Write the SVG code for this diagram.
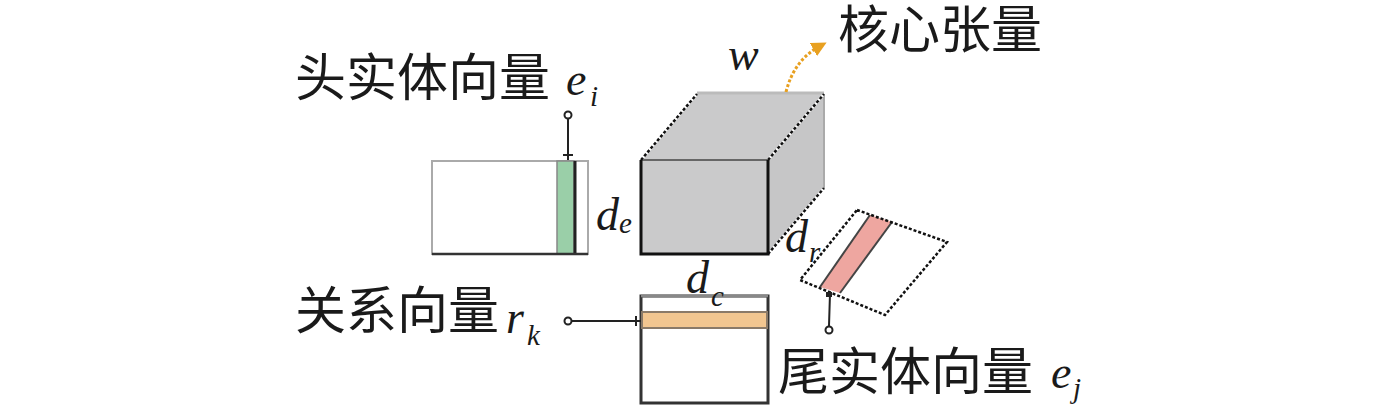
<svg xmlns="http://www.w3.org/2000/svg" width="1378" height="416" viewBox="0 0 1378 416">
<style>
.cjk{font-family:"Noto Sans CJK SC",sans-serif;font-size:51px;fill:#1a1a1a}
.m{font-family:'Liberation Serif','DejaVu Serif',serif;font-style:italic;font-size:46px;fill:#1a1a1a}
.s{font-family:'Liberation Serif','DejaVu Serif',serif;font-style:italic;font-size:29px;fill:#1a1a1a}
.dash{stroke:#111;stroke-width:2.5;stroke-dasharray:3 2;fill:none}
.dashbg{stroke:#fff;stroke-width:2.5;fill:none}
.conn{stroke:#222;stroke-width:2;fill:none}
.dot{fill:#fff;stroke:#222;stroke-width:2}
</style>
<defs>
<marker id="oa" viewBox="0 0 10 10" refX="5" refY="5" markerWidth="5" markerHeight="5" orient="auto">
<path d="M0,0 L10,5 L0,10 z" fill="#E8A020"/>
</marker>
</defs>
<rect width="1378" height="416" fill="#fff"/>

<g id="head-entity">
<rect x="432" y="161" width="156" height="93" fill="#fff" stroke="#aaa" stroke-width="2"/>
<rect x="557" y="161" width="17" height="93" fill="#9ACFA8" stroke="#888" stroke-width="1.5"/>
<line x1="575" y1="161" x2="575" y2="254" stroke="#222" stroke-width="3"/>
<line x1="432" y1="254" x2="588" y2="254" stroke="#333" stroke-width="2.5"/>
<text class="cjk" x="295" y="96">头实体向量</text>
<text class="m" x="566" y="95">e</text>
<text class="s" x="590" y="106">i</text>
<text class="m" x="596" y="230">d</text>
<text class="s" x="619" y="233">e</text>
</g>

<g id="core-tensor">
<polygon points="641,160 697,94 824,94 824,188 768,254 641,254" fill="#CACACB"/>
<polygon points="768,160 824,94 824,188 768,254" fill="#C6C6C7"/>
<line x1="697" y1="93" x2="824" y2="93" stroke="#bbb" stroke-width="3"/>
<line x1="824" y1="94" x2="824" y2="188" stroke="#aaa" stroke-width="2"/>
<line x1="641" y1="160" x2="768" y2="160" stroke="#666" stroke-width="2"/>
<line x1="641" y1="160" x2="697" y2="94" class="dashbg"/>
<line x1="641" y1="160" x2="697" y2="94" class="dash"/>
<line x1="768" y1="160" x2="824" y2="94" class="dashbg"/>
<line x1="768" y1="160" x2="824" y2="94" class="dash"/>
<line x1="768" y1="254" x2="824" y2="188" class="dashbg"/>
<line x1="768" y1="254" x2="824" y2="188" class="dash"/>
<polyline points="641,160 641,254 768,254 768,160" fill="none" stroke="#111" stroke-width="3"/>
<text class="m" x="728" y="70">w</text>
<text class="cjk" x="838" y="48">核心张量</text>
</g>

<g id="relation">
<rect x="641" y="296" width="127" height="107" fill="#fff" stroke="#333" stroke-width="3"/>
<line x1="641" y1="296" x2="768" y2="296" stroke="#888" stroke-width="2.5"/>
<rect x="642" y="312" width="125" height="16" fill="#F2C690" stroke="#8a7a68" stroke-width="2"/>
<text class="m" x="686" y="293">d</text>
<text class="s" x="711" y="306">c</text>
<text class="cjk" x="295" y="329">关系向量</text>
<text class="m" x="506" y="333">r</text>
<text class="s" x="527" y="345">k</text>
</g>

<g id="tail-entity">
<polygon points="857,210 947,242 885,315 800,280" fill="#fff"/>
<polygon points="870,215 892,222 840,293 820,287" fill="#EEA6A0"/>
<line x1="870" y1="215" x2="820" y2="287" stroke="#444" stroke-width="2"/>
<line x1="892" y1="222" x2="840" y2="293" stroke="#444" stroke-width="2"/>
<polygon points="857,210 947,242 885,315 800,280" class="dash" stroke-width="2"/>
<text class="m" x="785" y="252">d</text>
<text class="s" x="809" y="262">r</text>
<text class="cjk" x="778" y="390">尾实体向量</text>
<text class="m" x="1051" y="388">e</text>
<text class="s" x="1073" y="398">j</text>
</g>

<g id="connectors">
<line x1="568" y1="119" x2="568" y2="160" class="conn"/>
<line x1="563" y1="155" x2="573" y2="155" class="conn"/>
<circle cx="568" cy="115" r="3.5" class="dot"/>
<line x1="572" y1="321" x2="641" y2="321" class="conn"/>
<line x1="636" y1="316" x2="636" y2="326" class="conn"/>
<circle cx="568" cy="321" r="3.5" class="dot"/>
<line x1="830" y1="293" x2="829" y2="326" class="conn"/>
<rect x="826" y="292" width="6" height="5" fill="#222"/>
<circle cx="829" cy="330" r="3.5" class="dot"/>
<path d="M786,92 Q794,60 820,46" fill="none" stroke="#E8A020" stroke-width="3" stroke-dasharray="3 2" marker-end="url(#oa)"/>
</g>
</svg>
